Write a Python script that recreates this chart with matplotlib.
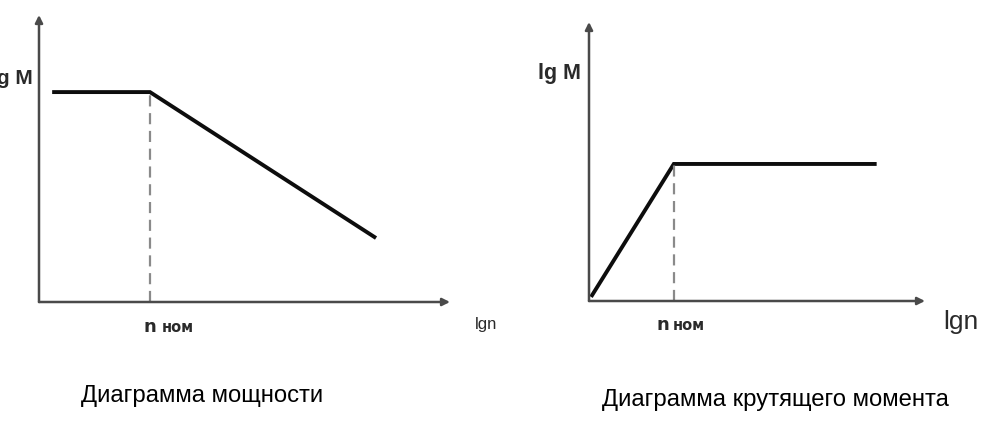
import matplotlib
matplotlib.use("Agg")
import matplotlib.pyplot as plt

# ---- data (abstract log units) ----
power_lgn = [0.32, 2.7, 8.2]
power_lgM = [5.12, 5.12, 1.56]
power_n_nom = 2.7

torque_lgn = [0.05, 2.07, 7.02]
torque_lgM = [0.10, 3.34, 3.34]
torque_n_nom = 2.07

captions = ["Диаграмма мощности", "Диаграмма крутящего момента"]
y_label = "lg M"
x_label = "lgn"
n_label = "n"
nom_label = "ном"

W, H = 1004, 433
fig = plt.figure(figsize=(W / 100, H / 100), dpi=100)
fig.patch.set_facecolor("white")


def rect(x0, y0, x1, y1):
    """pixel box (left, bottom(px from top), right, top(px from top)) -> fig fraction"""
    return [x0 / W, (H - y0) / H, (x1 - x0) / W, (y0 - y1) / H]


def fx(x):
    return x / W


def fy(y):
    return (H - y) / H


AX_COL = "#4a4a4a"
LINE_COL = "#0d0d0d"
DASH_COL = "#8a8a8a"
TXT_COL = "#2a2a2a"


def setup(ax, xlim, ylim):
    ax.set_xlim(*xlim)
    ax.set_ylim(*ylim)
    for s in ax.spines.values():
        s.set_visible(False)
    ax.set_xticks([])
    ax.set_yticks([])
    ax.patch.set_alpha(0)
    ap = dict(arrowstyle="-|>", color=AX_COL, lw=1.8, mutation_scale=11,
              shrinkA=0, shrinkB=0)
    ax.annotate("", xy=(0, 1.0), xytext=(0, 0), xycoords="axes fraction",
                arrowprops=ap, annotation_clip=False)
    ax.annotate("", xy=(1.0, 0), xytext=(0, 0), xycoords="axes fraction",
                arrowprops=ap, annotation_clip=False)


def n_nom_label(ax, x, dx_n, dy_n, dx_nom, dy_nom, size_n, size_nom):
    ax.annotate(n_label, xy=(x, 0), xycoords=("data", "axes fraction"),
                xytext=(dx_n, -dy_n), textcoords="offset pixels",
                ha="center", va="baseline", fontsize=size_n,
                fontweight="bold", color=TXT_COL, family="DejaVu Sans",
                annotation_clip=False)
    ax.annotate(nom_label, xy=(x, 0), xycoords=("data", "axes fraction"),
                xytext=(dx_nom, -dy_nom), textcoords="offset pixels",
                ha="left", va="baseline", fontsize=size_nom,
                fontweight="bold", color=TXT_COL, family="DejaVu Sans",
                annotation_clip=False)


# ---- left: power diagram ----
ax1 = fig.add_axes(rect(39, 302, 450, 15))
setup(ax1, (0, 10), (0, 7))
ax1.plot(power_lgn, power_lgM, color=LINE_COL, lw=2.8,
         solid_joinstyle="miter", solid_capstyle="butt")
ax1.vlines(power_n_nom, 0, power_lgM[1], colors=DASH_COL, lw=1.6,
           linestyles=(0, (5, 3)))
n_nom_label(ax1, power_n_nom, 0, 30, 12, 30, 13, 10.5)

# ---- right: torque diagram ----
ax2 = fig.add_axes(rect(589, 301, 925, 22))
setup(ax2, (0, 8.2), (0, 6.8))
ax2.plot(torque_lgn, torque_lgM, color=LINE_COL, lw=2.8,
         solid_joinstyle="miter", solid_capstyle="butt")
ax2.vlines(torque_n_nom, 0, torque_lgM[1], colors=DASH_COL, lw=1.6,
           linestyles=(0, (5, 3)))
n_nom_label(ax2, torque_n_nom, -11, 29, -1, 29, 13, 10.5)

# ---- axis labels ----
fig.text(fx(33), fy(78), y_label, ha="right", va="center", fontsize=15,
         fontweight="bold", color=TXT_COL, family="Liberation Sans")
fig.text(fx(581), fy(74), y_label, ha="right", va="center", fontsize=15.5,
         fontweight="bold", color=TXT_COL, family="Liberation Sans")
fig.text(fx(486), fy(329), x_label, ha="center", va="baseline", fontsize=12,
         color=TXT_COL, family="Liberation Sans")
fig.text(fx(961), fy(329), x_label, ha="center", va="baseline", fontsize=19,
         color=TXT_COL, family="Liberation Sans")

# ---- captions ----
fig.text(fx(202.5), fy(402), captions[0], ha="center", va="baseline",
         fontsize=17.2, color="black", family="Liberation Sans")
fig.text(fx(775), fy(406), captions[1], ha="center", va="baseline",
         fontsize=17.2, color="black", family="Liberation Sans")

fig.savefig("out.png", dpi=100, facecolor="white")
